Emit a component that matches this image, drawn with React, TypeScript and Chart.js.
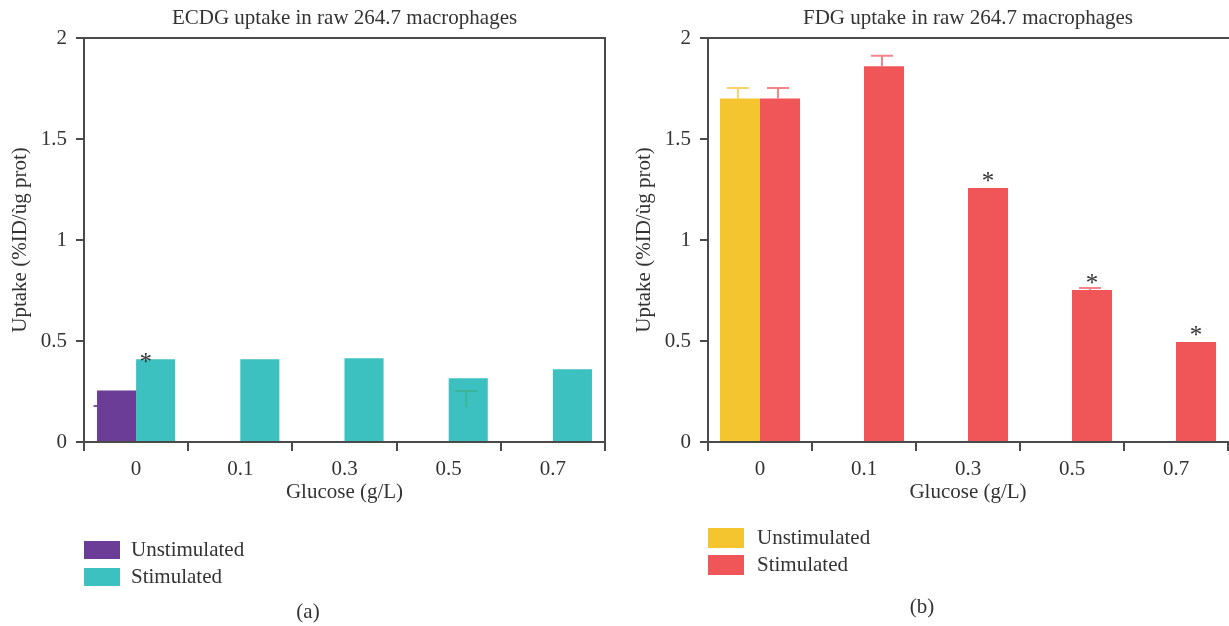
import { useEffect, useRef } from "react";
import { Chart, registerables } from "chart.js";

Chart.register(...registerables);

// ---------- data ----------
const categories = ["0", "0.1", "0.3", "0.5", "0.7"];
const yTickValues = [0, 0.5, 1, 1.5, 2];
const yTickLabels = ["0", "0.5", "1", "1.5", "2"];
const seriesLabels = ["Unstimulated", "Stimulated"];

// (a) ECDG
const ecdgUnstimulated = [0.255, null, null, null, null];
const ecdgStimulated = [0.41, 0.41, 0.415, 0.315, 0.36];
const ecdgUnstimErrCap = [0.178, null, null, null, null];
const ecdgUnstimErrLow = [0.178, null, null, null, null];
const ecdgStimErrCap = [null, null, null, 0.252, null];
const ecdgStimErrLow = [null, null, null, 0.173, null];
const ecdgStimSignificant = [true, false, false, false, false];

// (b) FDG
const fdgUnstimulated = [1.7, null, null, null, null];
const fdgStimulated = [1.7, 1.86, 1.257, 0.752, 0.495];
const fdgUnstimErrCap = [1.752, null, null, null, null];
const fdgStimErrCap = [1.752, 1.912, null, 0.762, null];
const fdgStimSignificant = [false, false, true, true, true];

const FONT = '"Liberation Serif", "DejaVu Serif", serif';
const FS = 21;
const TEXT = "#333333";
const AXIS = "#4a4a4a";

type ErrSpec = {
  cap: (number | null)[];
  low?: (number | null)[];
  color: string;
  capHalf: number;
  behind?: boolean;
};

type PanelSpec = {
  title: string;
  colors: [string, string];
  unstim: (number | null)[];
  stim: (number | null)[];
  errors: [ErrSpec | null, ErrSpec | null];
  sig: boolean[];
  sigShift: number;
  sigGap: number;
  rightBorder: boolean;
  padRight: number;
  catPct: number;
  legend: { x: number; y: number; w: number; h: number; gap: number; textX: number };
  panelLabel: { text: string; x: number; y: number };
};

function makePlugin(spec: PanelSpec) {
  const drawErrors = (chart: any, behind: boolean) => {
    const ctx = chart.ctx;
    const yScale = chart.scales.y;
    spec.errors.forEach((err, di) => {
      if (!err || !!err.behind !== behind) return;
      const meta = chart.getDatasetMeta(di);
      err.cap.forEach((cap, j) => {
        if (cap == null) return;
        const el: any = meta.data[j];
        if (!el) return;
        const x = el.x - 2;
        const yc = yScale.getPixelForValue(cap);
        const lowVal = err.low ? err.low[j] : null;
        const yl = lowVal != null ? yScale.getPixelForValue(lowVal) : el.y;
        ctx.save();
        ctx.strokeStyle = err.color;
        ctx.lineWidth = 2;
        ctx.beginPath();
        ctx.moveTo(x - err.capHalf, yc);
        ctx.lineTo(x + err.capHalf, yc);
        if (yl !== yc) {
          ctx.moveTo(x, yc);
          ctx.lineTo(x, yl);
        }
        ctx.stroke();
        ctx.restore();
      });
    });
  };
  return {
    id: "panelExtras",
    beforeDatasetsDraw(chart: any) {
      drawErrors(chart, true);
    },
    afterDatasetsDraw(chart: any) {
      drawErrors(chart, false);
      const ctx = chart.ctx;
      const meta = chart.getDatasetMeta(1);
      ctx.save();
      ctx.fillStyle = TEXT;
      ctx.font = `25px ${FONT}`;
      ctx.textAlign = "center";
      ctx.textBaseline = "alphabetic";
      spec.sig.forEach((s, j) => {
        if (!s) return;
        const el: any = meta.data[j];
        const m = ctx.measureText("*");
        const x = el.x + spec.sigShift * el.width;
        const cy = el.y - spec.sigGap;
        const off = (m.actualBoundingBoxAscent - m.actualBoundingBoxDescent) / 2;
        ctx.fillText("*", x, cy + off);
      });
      ctx.restore();
    },
    afterDraw(chart: any) {
      const ctx = chart.ctx;
      const a = chart.chartArea;
      ctx.save();
      // frame
      ctx.strokeStyle = AXIS;
      ctx.lineWidth = 2;
      ctx.beginPath();
      ctx.moveTo(a.left, a.top);
      ctx.lineTo(spec.rightBorder ? a.right : chart.width, a.top);
      if (spec.rightBorder) ctx.lineTo(a.right, a.bottom);
      ctx.stroke();
      // title
      ctx.fillStyle = TEXT;
      ctx.font = `${FS}px ${FONT}`;
      ctx.textAlign = "center";
      ctx.textBaseline = "alphabetic";
      ctx.fillText(spec.title, (a.left + a.right) / 2, 24);
      // legend
      const L = spec.legend;
      chart.data.datasets.forEach((ds: any, i: number) => {
        const y = L.y + i * L.gap;
        ctx.fillStyle = ds.backgroundColor;
        ctx.fillRect(L.x, y, L.w, L.h);
        ctx.fillStyle = TEXT;
        ctx.textAlign = "left";
        ctx.textBaseline = "middle";
        ctx.fillText(ds.label, L.textX, y + L.h / 2);
      });
      // panel label
      ctx.textAlign = "center";
      ctx.textBaseline = "middle";
      ctx.fillText(spec.panelLabel.text, spec.panelLabel.x, spec.panelLabel.y);
      ctx.restore();
    },
  };
}

function makeConfig(spec: PanelSpec): any {
  return {
    type: "bar",
    data: {
      labels: categories,
      datasets: [
        {
          label: seriesLabels[0],
          data: spec.unstim,
          backgroundColor: spec.colors[0],
          borderWidth: 0,
        },
        {
          label: seriesLabels[1],
          data: spec.stim,
          backgroundColor: spec.colors[1],
          borderWidth: 0,
        },
      ],
    },
    options: {
      responsive: false,
      animation: false,
      devicePixelRatio: 1,
      layout: { padding: { top: 38, left: 0, right: spec.padRight, bottom: 121 } },
      datasets: {
        bar: { categoryPercentage: spec.catPct, barPercentage: 1 },
      },
      plugins: {
        legend: { display: false },
        title: { display: false },
        tooltip: { enabled: false },
      },
      scales: {
        x: {
          type: "category",
          afterFit: (s: any) => {
            s.height = 63;
          },
          grid: {
            offset: true,
            drawOnChartArea: false,
            drawTicks: true,
            tickLength: 9,
            color: AXIS,
            lineWidth: 2,
          },
          border: { display: true, color: AXIS, width: 2 },
          ticks: {
            color: TEXT,
            font: { family: FONT, size: FS },
            padding: 6,
            maxRotation: 0,
          },
          title: {
            display: true,
            text: "Glucose (g/L)",
            color: TEXT,
            font: { family: FONT, size: FS },
            padding: { top: 0, bottom: 0 },
          },
        },
        y: {
          min: 0,
          max: 2,
          afterFit: (s: any) => {
            s.width = 84;
          },
          afterBuildTicks: (s: any) => {
            s.ticks = yTickValues.map((v) => ({ value: v }));
          },
          grid: {
            drawOnChartArea: false,
            drawTicks: true,
            tickLength: 8,
            color: AXIS,
            lineWidth: 2,
          },
          border: { display: true, color: AXIS, width: 2 },
          ticks: {
            color: TEXT,
            font: { family: FONT, size: FS },
            padding: 9,
            callback: (v: number) => {
              const i = yTickValues.indexOf(v);
              return i >= 0 ? yTickLabels[i] : String(v);
            },
          },
          title: {
            display: true,
            text: "Uptake (%ID/ùg prot)",
            color: TEXT,
            font: { family: FONT, size: FS },
            padding: { top: 8, bottom: 0 },
          },
        },
      },
    },
    plugins: [makePlugin(spec)],
  };
}

const panelA: PanelSpec = {
  title: "ECDG uptake in raw 264.7 macrophages",
  colors: ["#6c3d96", "#3dc0c0"],
  unstim: ecdgUnstimulated,
  stim: ecdgStimulated,
  errors: [
    { cap: ecdgUnstimErrCap, low: ecdgUnstimErrLow, color: "#7b55a8", capHalf: 21, behind: true },
    { cap: ecdgStimErrCap, low: ecdgStimErrLow, color: "#3bb596", capHalf: 11 },
  ],
  sig: ecdgStimSignificant,
  sigShift: -0.25,
  sigGap: 1,
  rightBorder: true,
  padRight: 10,
  catPct: 0.75,
  legend: { x: 84, y: 541, w: 36, h: 18, gap: 27, textX: 131 },
  panelLabel: { text: "(a)", x: 308, y: 612 },
};

const panelB: PanelSpec = {
  title: "FDG uptake in raw 264.7 macrophages",
  colors: ["#f4c52e", "#f05658"],
  unstim: fdgUnstimulated,
  stim: fdgStimulated,
  errors: [
    { cap: fdgUnstimErrCap, color: "#f6d26a", capHalf: 11 },
    { cap: fdgStimErrCap, color: "#f4868a", capHalf: 11 },
  ],
  sig: fdgStimSignificant,
  sigShift: 0,
  sigGap: 11,
  rightBorder: false,
  padRight: 1,
  catPct: 0.77,
  legend: { x: 708, y: 528, w: 36, h: 20, gap: 27, textX: 757 },
  panelLabel: { text: "(b)", x: 922, y: 607 },
};

function Panel({ spec, left, width }: { spec: PanelSpec; left: number; width: number }) {
  const ref = useRef<HTMLCanvasElement | null>(null);
  useEffect(() => {
    if (!ref.current) return;
    const cfg = makeConfig({
      ...spec,
      legend: { ...spec.legend, x: spec.legend.x - left, textX: spec.legend.textX - left },
      panelLabel: { ...spec.panelLabel, x: spec.panelLabel.x - left },
    });
    const chart = new Chart(ref.current, cfg);
    return () => chart.destroy();
  }, [spec, left]);
  return (
    <canvas
      ref={ref}
      width={width}
      height={626}
      style={{ position: "absolute", left, top: 0, width, height: 626 }}
    />
  );
}

export default function App() {
  return (
    <div
      style={{
        position: "absolute",
        left: 0,
        top: 0,
        width: 1229,
        height: 626,
        background: "#ffffff",
        overflow: "hidden",
      }}
    >
      <Panel spec={panelA} left={0} width={615} />
      <Panel spec={panelB} left={624} width={605} />
    </div>
  );
}
